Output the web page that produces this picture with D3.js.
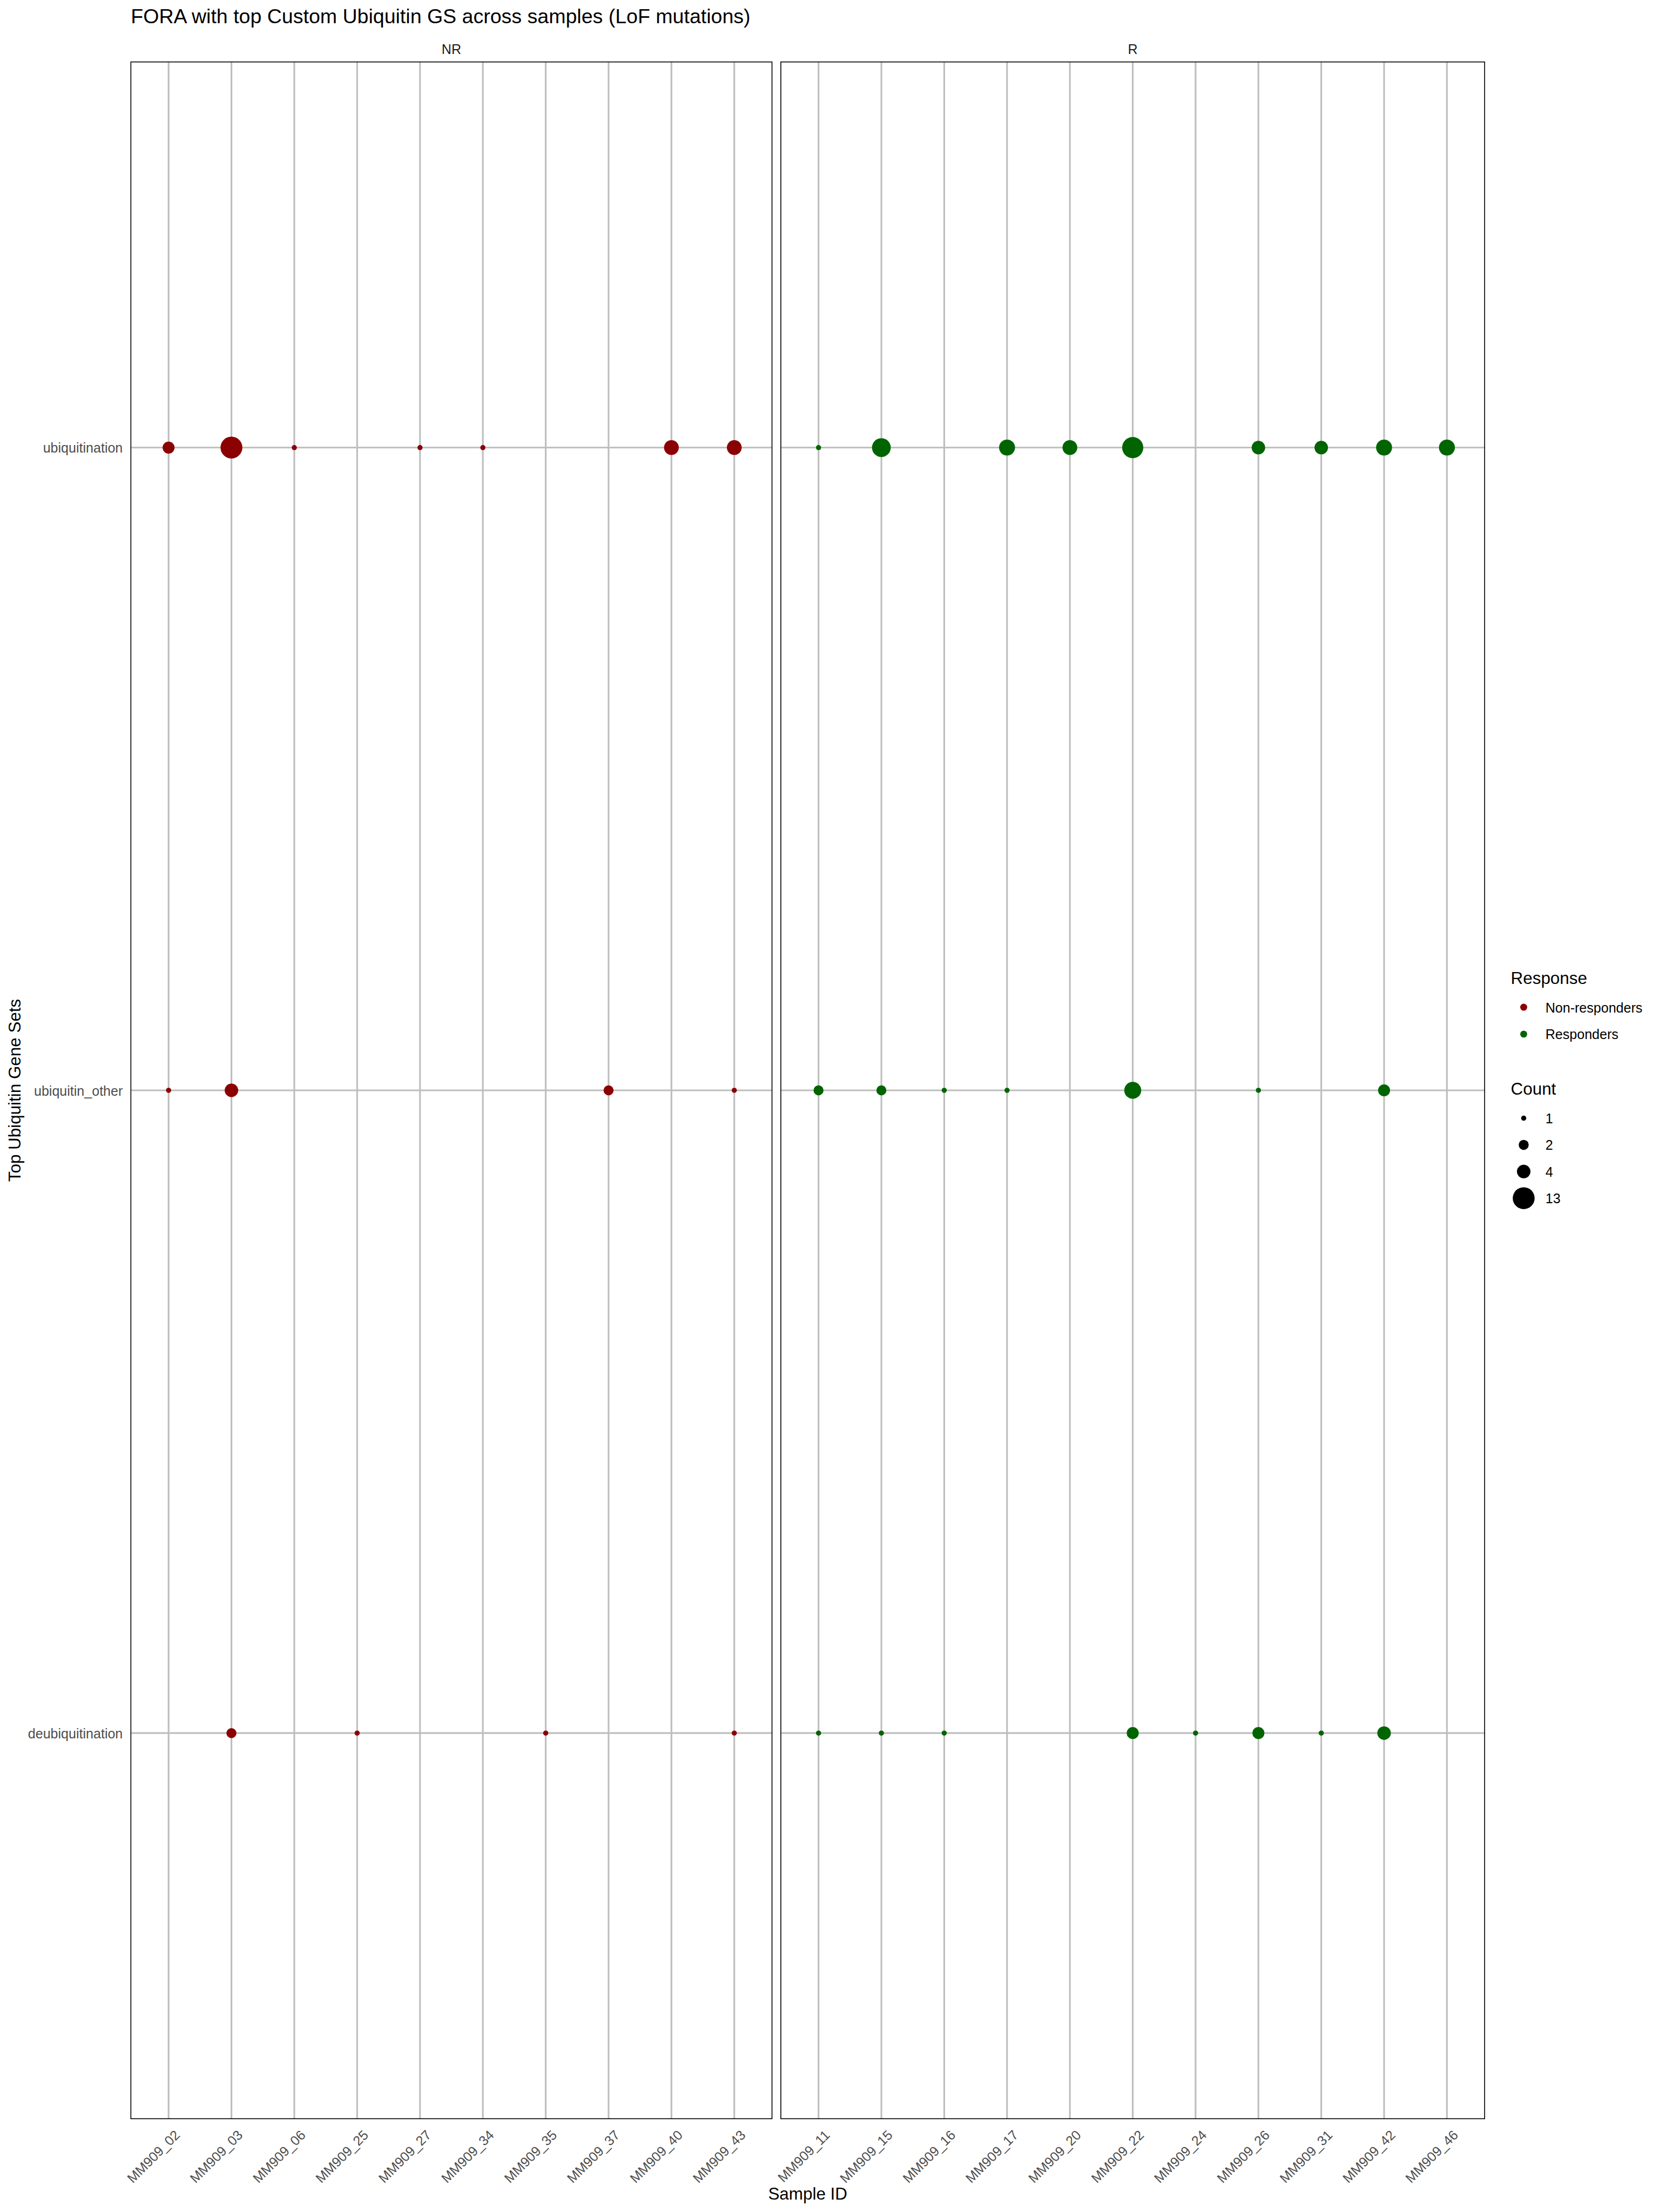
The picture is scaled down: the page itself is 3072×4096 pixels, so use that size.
<!DOCTYPE html>
<html>
<head>
<meta charset="utf-8">
<script src="https://cdn.jsdelivr.net/npm/d3@7"></script>
<style>
  html, body { margin: 0; padding: 0; background: #ffffff; }
  svg { display: block; }
  text { font-family: "Liberation Sans", Arial, Helvetica, sans-serif; }
</style>
</head>
<body>
<script>
// ---------------- data ----------------
const chartTitle = "FORA with top Custom Ubiquitin GS across samples (LoF mutations)";
const geneSets = ["ubiquitination", "ubiquitin_other", "deubiquitination"];
const nrSamples = ["MM909_02","MM909_03","MM909_06","MM909_25","MM909_27","MM909_34","MM909_35","MM909_37","MM909_40","MM909_43"];
const rSamples  = ["MM909_11","MM909_15","MM909_16","MM909_17","MM909_20","MM909_22","MM909_24","MM909_26","MM909_31","MM909_42","MM909_46"];
// counts per gene set, aligned with samples (0 = no enrichment / no point)
const nrUbiquitination   = [3, 13, 1, 0, 1, 1, 0, 0, 5, 5];
const nrUbiquitinOther   = [1, 4, 0, 0, 0, 0, 0, 2, 0, 1];
const nrDeubiquitination = [0, 2, 0, 1, 0, 0, 1, 0, 0, 1];
const rUbiquitination    = [1, 9, 0, 6, 5, 12, 0, 4, 4, 6, 6];
const rUbiquitinOther    = [2, 2, 1, 1, 0, 7, 0, 1, 0, 3, 0];
const rDeubiquitination  = [1, 1, 1, 0, 0, 3, 1, 3, 1, 4, 0];
const responseLabels = ["Non-responders", "Responders"];
const facetLabels = ["NR", "R"];
const countBreaks = [1, 2, 4, 13];

// ---------------- build records ----------------
const panels = [
  { facet: "NR", response: "Non-responders", samples: nrSamples,
    rows: { ubiquitination: nrUbiquitination, ubiquitin_other: nrUbiquitinOther, deubiquitination: nrDeubiquitination } },
  { facet: "R", response: "Responders", samples: rSamples,
    rows: { ubiquitination: rUbiquitination, ubiquitin_other: rUbiquitinOther, deubiquitination: rDeubiquitination } }
];
panels.forEach(p => {
  p.points = [];
  geneSets.forEach(g => {
    p.rows[g].forEach((c, i) => { if (c > 0) p.points.push({ sample: p.samples[i], set: g, count: c, response: p.response }); });
  });
});
const allCounts = panels.flatMap(p => p.points.map(d => d.count));
const cMin = d3.min(allCounts), cMax = d3.max(allCounts);

// ---------------- layout (reference pixel units, scaled) ----------------
const W = 3072, H = 4096, S = 3072 / 4500;
const svg = d3.select("body").append("svg").attr("width", W).attr("height", H);
const root = svg.append("g").attr("transform", `scale(${S})`);

const panelTop = 168, panelBottom = 5747;
panels[0].x0 = 355;  panels[0].x1 = 2094;
panels[1].x0 = 2118; panels[1].x1 = 4027;

const color = d3.scaleOrdinal().domain(responseLabels).range(["#8B0000", "#006400"]);
const sizeSqrt = d3.scaleSqrt().domain([0, cMax - cMin]).range([0, 45.3]);
const diameter = v => 14 + sizeSqrt(v - cMin);

const y = d3.scalePoint().domain(geneSets).range([panelTop, panelBottom]).padding(0.6);

const gridColor = "#BEBEBE", gridW = 4.6;
const txtGrey = "#4D4D4D";
const axisFont = 36.7, titleFont = 46;

// title
root.append("text").attr("x", 355).attr("y", 63)
  .attr("font-size", 55).attr("fill", "#000").text(chartTitle);

panels.forEach((p, pi) => {
  const x = d3.scalePoint().domain(p.samples).range([p.x0, p.x1]).padding(0.6);
  const g = root.append("g");
  // strip label
  g.append("text").attr("x", (p.x0 + p.x1) / 2).attr("y", 146)
    .attr("text-anchor", "middle").attr("font-size", axisFont).attr("fill", "#1A1A1A")
    .text(facetLabels[pi]);
  // grid
  g.append("g").selectAll("line.v").data(p.samples).join("line")
    .attr("x1", d => x(d)).attr("x2", d => x(d))
    .attr("y1", panelTop).attr("y2", panelBottom)
    .attr("stroke", gridColor).attr("stroke-width", gridW);
  g.append("g").selectAll("line.h").data(geneSets).join("line")
    .attr("x1", p.x0).attr("x2", p.x1)
    .attr("y1", d => y(d)).attr("y2", d => y(d))
    .attr("stroke", gridColor).attr("stroke-width", gridW);
  // points
  g.append("g").selectAll("circle").data(p.points).join("circle")
    .attr("cx", d => x(d.sample)).attr("cy", d => y(d.set))
    .attr("r", d => diameter(d.count) / 2)
    .attr("fill", d => color(d.response));
  // border
  g.append("rect").attr("x", p.x0).attr("y", panelTop)
    .attr("width", p.x1 - p.x0).attr("height", panelBottom - panelTop)
    .attr("fill", "none").attr("stroke", "#000").attr("stroke-width", 2.4);
  // x tick labels
  g.append("g").selectAll("text").data(p.samples).join("text")
    .attr("transform", d => `translate(${x(d) + 14},${panelBottom + 28}) rotate(-45)`)
    .attr("text-anchor", "end").attr("dy", "0.72em")
    .attr("font-size", axisFont).attr("fill", txtGrey).text(d => d);
});

// y axis labels
root.append("g").selectAll("text").data(geneSets).join("text")
  .attr("x", 333).attr("y", d => y(d)).attr("dy", "0.38em")
  .attr("text-anchor", "end").attr("font-size", axisFont).attr("fill", txtGrey).text(d => d);

// axis titles
root.append("text").attr("x", (355 + 4027) / 2).attr("y", 5967)
  .attr("text-anchor", "middle").attr("font-size", titleFont).attr("fill", "#000").text("Sample ID");
root.append("text").attr("transform", `translate(56,${(panelTop + panelBottom) / 2}) rotate(-90)`)
  .attr("text-anchor", "middle").attr("font-size", titleFont).attr("fill", "#000").text("Top Ubiquitin Gene Sets");

// legend: Response
const lg = root.append("g");
lg.append("text").attr("x", 4098).attr("y", 2669).attr("font-size", titleFont).attr("fill", "#000").text("Response");
const respY = d3.scalePoint().domain(responseLabels).range([2732, 2805]);
responseLabels.forEach(r => {
  lg.append("circle").attr("cx", 4133).attr("cy", respY(r)).attr("r", 9.5).attr("fill", color(r));
  lg.append("text").attr("x", 4192).attr("y", respY(r)).attr("dy", "0.38em")
    .attr("font-size", axisFont).attr("fill", "#000").text(r);
});
// legend: Count
lg.append("text").attr("x", 4098).attr("y", 2969).attr("font-size", titleFont).attr("fill", "#000").text("Count");
const cntY = d3.scalePoint().domain(countBreaks).range([3033, 3250]);
countBreaks.forEach(c => {
  lg.append("circle").attr("cx", 4133).attr("cy", cntY(c)).attr("r", diameter(c) / 2).attr("fill", "#000");
  lg.append("text").attr("x", 4192).attr("y", cntY(c)).attr("dy", "0.38em")
    .attr("font-size", axisFont).attr("fill", "#000").text(c);
});
</script>
</body>
</html>
